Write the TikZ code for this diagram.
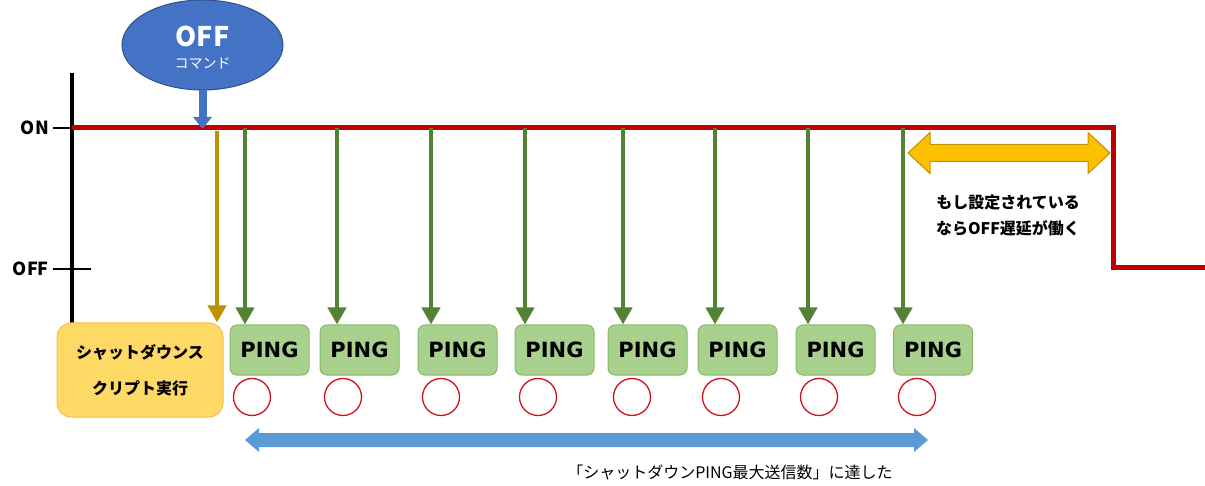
\documentclass[tikz,border=0pt]{standalone}
\usepackage{fontspec}
\setmainfont{Noto Sans CJK JP}
\newfontfamily\pingfont{DejaVu Sans}
\usetikzlibrary{arrows.meta,positioning,shapes.geometric}

\definecolor{onred}{RGB}{192,0,0}
\definecolor{pinggreen}{RGB}{84,130,53}
\definecolor{pingfill}{RGB}{169,209,142}
\definecolor{pingline}{RGB}{135,185,105}
\definecolor{scriptgold}{RGB}{191,144,0}
\definecolor{scriptfill}{RGB}{255,217,102}
\definecolor{scriptline}{RGB}{242,195,70}
\definecolor{cmdblue}{RGB}{68,114,196}
\definecolor{cmdline}{RGB}{47,82,143}
\definecolor{countblue}{RGB}{91,155,213}
\definecolor{delayfill}{RGB}{255,192,0}
\definecolor{delayline}{RGB}{191,144,0}
\definecolor{okred}{RGB}{205,20,30}

\tikzset{
  pingbox/.style={draw=pingline, fill=pingfill, line width=1pt, rounded corners=7pt,
    minimum width=79pt, minimum height=50pt, inner sep=0pt,
    font=\pingfont\fontsize{21}{21}\selectfont\bfseries},
  okmark/.style={circle, draw=okred, fill=white, line width=1.3pt, minimum size=37pt, inner sep=0pt},
  pingarrow/.style={draw=pinggreen, line width=4pt, -{Triangle[width=18pt,length=17pt]}},
  scriptarrow/.style={draw=scriptgold, line width=4pt, -{Triangle[width=18pt,length=17pt]}},
  levellabel/.style={anchor=east, inner sep=0pt, font=\fontsize{18}{18}\selectfont\bfseries}
}

\begin{document}
\begin{tikzpicture}[x=1pt,y=-1pt]
\useasboundingbox (0,0) rectangle (1205,486);

% Drawing axis and levels
\draw [line width=4pt] (72,73) -- (72,323);%
\node [levellabel] (onlabel) at (49,128) {ON};%
\draw [line width=1.5pt] (53,128) -- (72,128);%
\node [levellabel] (offlabel) at (49,269) {OFF};%
\draw [line width=1.5pt] (53,269) -- (91,269);%

% Drawing power line
\draw [onred, line width=5pt] (72,128) -- (1113,128) -- (1113,268) -- (1205,268);%

% OFF command
\node [ellipse, draw=cmdline, fill=cmdblue, line width=1pt, minimum width=161pt, minimum height=90pt] (cmd) at (202.5,45) {};%
\node [text=white, font=\fontsize{27}{27}\selectfont\bfseries] (cmdoff) at (202.5,36) {OFF};%
\node [text=white, font=\fontsize{14}{14}\selectfont] (cmdtext) at (202.5,63) {コマンド};%
\coordinate (cmdtip) at (202.5,129);%
\draw [draw=cmdblue, line width=8pt, -{Triangle[width=18pt,length=12pt]}] (cmd.south) -- (cmdtip);%

% Shutdown script
\node [draw=scriptline, fill=scriptfill, line width=1pt, rounded corners=14pt, minimum width=166pt, minimum height=94pt,
  align=center, font=\fontsize{16}{36}\selectfont\bfseries] (script) at (140,370) {シャットダウンス\\クリプト実行};%
\coordinate (s0) at (217,131);%
\draw [scriptarrow] (s0) -- (s0 |- script.north);%

% PING boxes
\node [pingbox] (p1) at (269.5,350) {PING};%
\node [pingbox] (p2) at (359.5,350) {PING};%
\node [pingbox] (p3) at (457.5,350) {PING};%
\node [pingbox] (p4) at (554.5,350) {PING};%
\node [pingbox] (p5) at (647.5,350) {PING};%
\node [pingbox] (p6) at (737.5,350) {PING};%
\node [pingbox] (p7) at (835.5,350) {PING};%
\node [pingbox] (p8) at (933,350) {PING};%

% PING arrows
\coordinate (s1) at (245,128);%
\coordinate (s2) at (337,128);%
\coordinate (s3) at (431,128);%
\coordinate (s4) at (525,128);%
\coordinate (s5) at (623,128);%
\coordinate (s6) at (715,128);%
\coordinate (s7) at (808,128);%
\coordinate (s8) at (903,128);%
\draw [pingarrow] (s1) -- (s1 |- p1.north);%
\draw [pingarrow] (s2) -- (s2 |- p2.north);%
\draw [pingarrow] (s3) -- (s3 |- p3.north);%
\draw [pingarrow] (s4) -- (s4 |- p4.north);%
\draw [pingarrow] (s5) -- (s5 |- p5.north);%
\draw [pingarrow] (s6) -- (s6 |- p6.north);%
\draw [pingarrow] (s7) -- (s7 |- p7.north);%
\draw [pingarrow] (s8) -- (s8 |- p8.north);%

% Replies
\node [okmark] (c1) at (252,397) {};%
\node [okmark] (c2) at (343,397) {};%
\node [okmark] (c3) at (441,397) {};%
\node [okmark] (c4) at (538,397) {};%
\node [okmark] (c5) at (632,397) {};%
\node [okmark] (c6) at (721,397) {};%
\node [okmark] (c7) at (819,397) {};%
\node [okmark] (c8) at (917,397) {};%

% Maximum count
\fill [countblue] (245,440) -- (259,428) -- (259,433) -- (914,433) -- (914,428) -- (928,440)
  -- (914,452) -- (914,447) -- (259,447) -- (259,452) -- cycle;%
\node [font=\fontsize{16}{16}\selectfont] (countlabel) at (730,472) {「シャットダウンPING最大送信数」に達した};%

% OFF delay
\draw [draw=delayline, fill=delayfill, line width=1pt] (908,153) -- (930,132.5) -- (930,144.5) -- (1088,144.5) -- (1088,132.5)
  -- (1110,153) -- (1088,173.5) -- (1088,161.5) -- (930,161.5) -- (930,173.5) -- cycle;%
\node [align=center, font=\fontsize{16}{26}\selectfont\bfseries] (delaytext) at (1008,215) {もし設定されている\\ならOFF遅延が働く};%
\end{tikzpicture}
\end{document}
